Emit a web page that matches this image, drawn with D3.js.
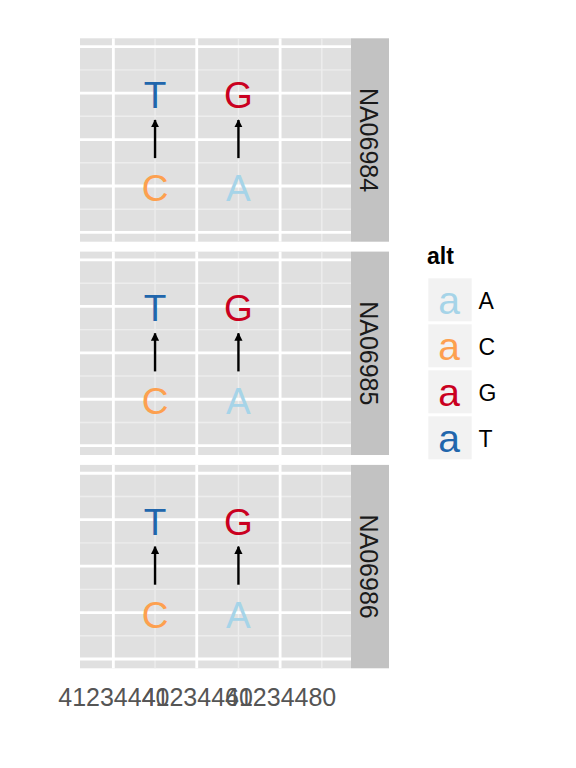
<!DOCTYPE html>
<html><head><meta charset="utf-8">
<script src="https://cdn.jsdelivr.net/npm/d3@7"></script>
<style>body{margin:0;background:#fff;} text{font-family:"Liberation Sans",Arial,sans-serif;}</style>
</head><body>
<svg id="c" width="576" height="768"></svg>
<script>
const samples = ["NA06984", "NA06985", "NA06986"];
const positions = [41234450, 41234470];
const refBases = ["C", "A"];
const altBases = ["T", "G"];
const xTicks = [41234440, 41234460, 41234480];
const xMinor = [41234430, 41234450, 41234470, 41234490];
const yTicks = [0, 1, 2, 3, 4];
const yMinor = [0.5, 1.5, 2.5, 3.5];
const legendBases = ["A", "C", "G", "T"];
const baseColors = ["#A6D4E8", "#FDA04F", "#CA0020", "#2166AC"];
const refY = 1, altY = 3, arrowFrom = 1.6, arrowTo = 2.42;

const svg = d3.select("#c");
const color = d3.scaleOrdinal().domain(legendBases).range(baseColors);
const x = d3.scaleLinear().domain([41234432, 41234497]).range([80, 351]);
const panels = d3.scaleBand().domain(samples).range([38.3, 668.3]).paddingInner(0.0464);
const ph = panels.bandwidth();
const y = d3.scaleLinear().domain([-0.2, 4.18]).range([ph, 0]);

svg.append("defs").append("marker")
  .attr("id", "ah").attr("viewBox", "0 0 10 10").attr("refX", 9).attr("refY", 5)
  .attr("markerWidth", 3.4).attr("markerHeight", 3.4).attr("orient", "auto")
  .append("path").attr("d", "M0,0L10,5L0,10Z").attr("fill", "#000");

const rows = [];
positions.forEach((p, i) => rows.push({pos: p, ref: refBases[i], alt: altBases[i]}));

samples.forEach(s => {
  const g = svg.append("g").attr("transform", `translate(0,${panels(s)})`);
  g.append("rect").attr("x", 80).attr("y", 0).attr("width", 271).attr("height", ph).attr("fill", "#E0E0E0");
  g.selectAll(".ymn").data(yMinor).join("line")
    .attr("x1", 80).attr("x2", 351).attr("y1", d => y(d)).attr("y2", d => y(d))
    .attr("stroke", "#EDEDED").attr("stroke-width", 1.4);
  g.selectAll(".xmn").data(xMinor.filter(d => x(d) > 80 && x(d) < 351)).join("line")
    .attr("y1", 0).attr("y2", ph).attr("x1", d => x(d)).attr("x2", d => x(d))
    .attr("stroke", "#EDEDED").attr("stroke-width", 1.4);
  g.selectAll(".ymj").data(yTicks).join("line")
    .attr("x1", 80).attr("x2", 351).attr("y1", d => y(d)).attr("y2", d => y(d))
    .attr("stroke", "#fff").attr("stroke-width", 2.8);
  g.selectAll(".xmj").data(xTicks).join("line")
    .attr("y1", 0).attr("y2", ph).attr("x1", d => x(d)).attr("x2", d => x(d))
    .attr("stroke", "#fff").attr("stroke-width", 2.8);
  g.append("rect").attr("x", 351).attr("y", 0).attr("width", 38).attr("height", ph).attr("fill", "#C2C2C2");
  g.append("text").attr("transform", `translate(360,${ph/2}) rotate(90)`)
    .attr("text-anchor", "middle").attr("font-size", 25).attr("fill", "#1A1A1A").text(s);
  g.selectAll(".arr").data(rows).join("line")
    .attr("x1", d => x(d.pos)).attr("x2", d => x(d.pos))
    .attr("y1", y(arrowFrom)).attr("y2", y(arrowTo))
    .attr("stroke", "#000").attr("stroke-width", 2.4).attr("marker-end", "url(#ah)");
  g.selectAll(".ref").data(rows).join("text")
    .attr("x", d => x(d.pos)).attr("y", y(refY) + 15).attr("text-anchor", "middle")
    .attr("font-size", 37).attr("fill", d => color(d.ref)).text(d => d.ref);
  g.selectAll(".alt").data(rows).join("text")
    .attr("x", d => x(d.pos)).attr("y", y(altY) + 15).attr("text-anchor", "middle")
    .attr("font-size", 37).attr("fill", d => color(d.alt)).text(d => d.alt);
});

const ax = svg.append("g").attr("transform", `translate(0,668.3)`)
  .call(d3.axisBottom(x).tickValues(xTicks).tickSize(0).tickFormat(d3.format("d")));
ax.select(".domain").remove();
ax.selectAll("text").attr("y", 37.7).attr("dy", 0).attr("font-size", 25)
  .attr("fill", "#555555").style("font-family", "Liberation Sans, Arial, sans-serif");

const lg = svg.append("g");
lg.append("text").attr("x", 427).attr("y", 264).attr("font-size", 23).attr("font-weight", "bold").attr("fill", "#000").text("alt");
const ly = d3.scaleBand().domain(legendBases).range([278.3, 462.3]);
lg.selectAll(".kr").data(legendBases).join("rect")
  .attr("x", 428.3).attr("y", d => ly(d)).attr("width", 43.4).attr("height", ly.bandwidth() - 3)
  .attr("fill", "#F2F2F2");
lg.selectAll(".ka").data(legendBases).join("text")
  .attr("x", 449).attr("y", d => ly(d) + 36).attr("text-anchor", "middle")
  .attr("font-size", 39).attr("fill", d => color(d)).text("a");
lg.selectAll(".kl").data(legendBases).join("text")
  .attr("x", 478.5).attr("y", d => ly(d) + 30.2).attr("font-size", 23).attr("fill", "#000").text(d => d);
</script>
</body></html>
